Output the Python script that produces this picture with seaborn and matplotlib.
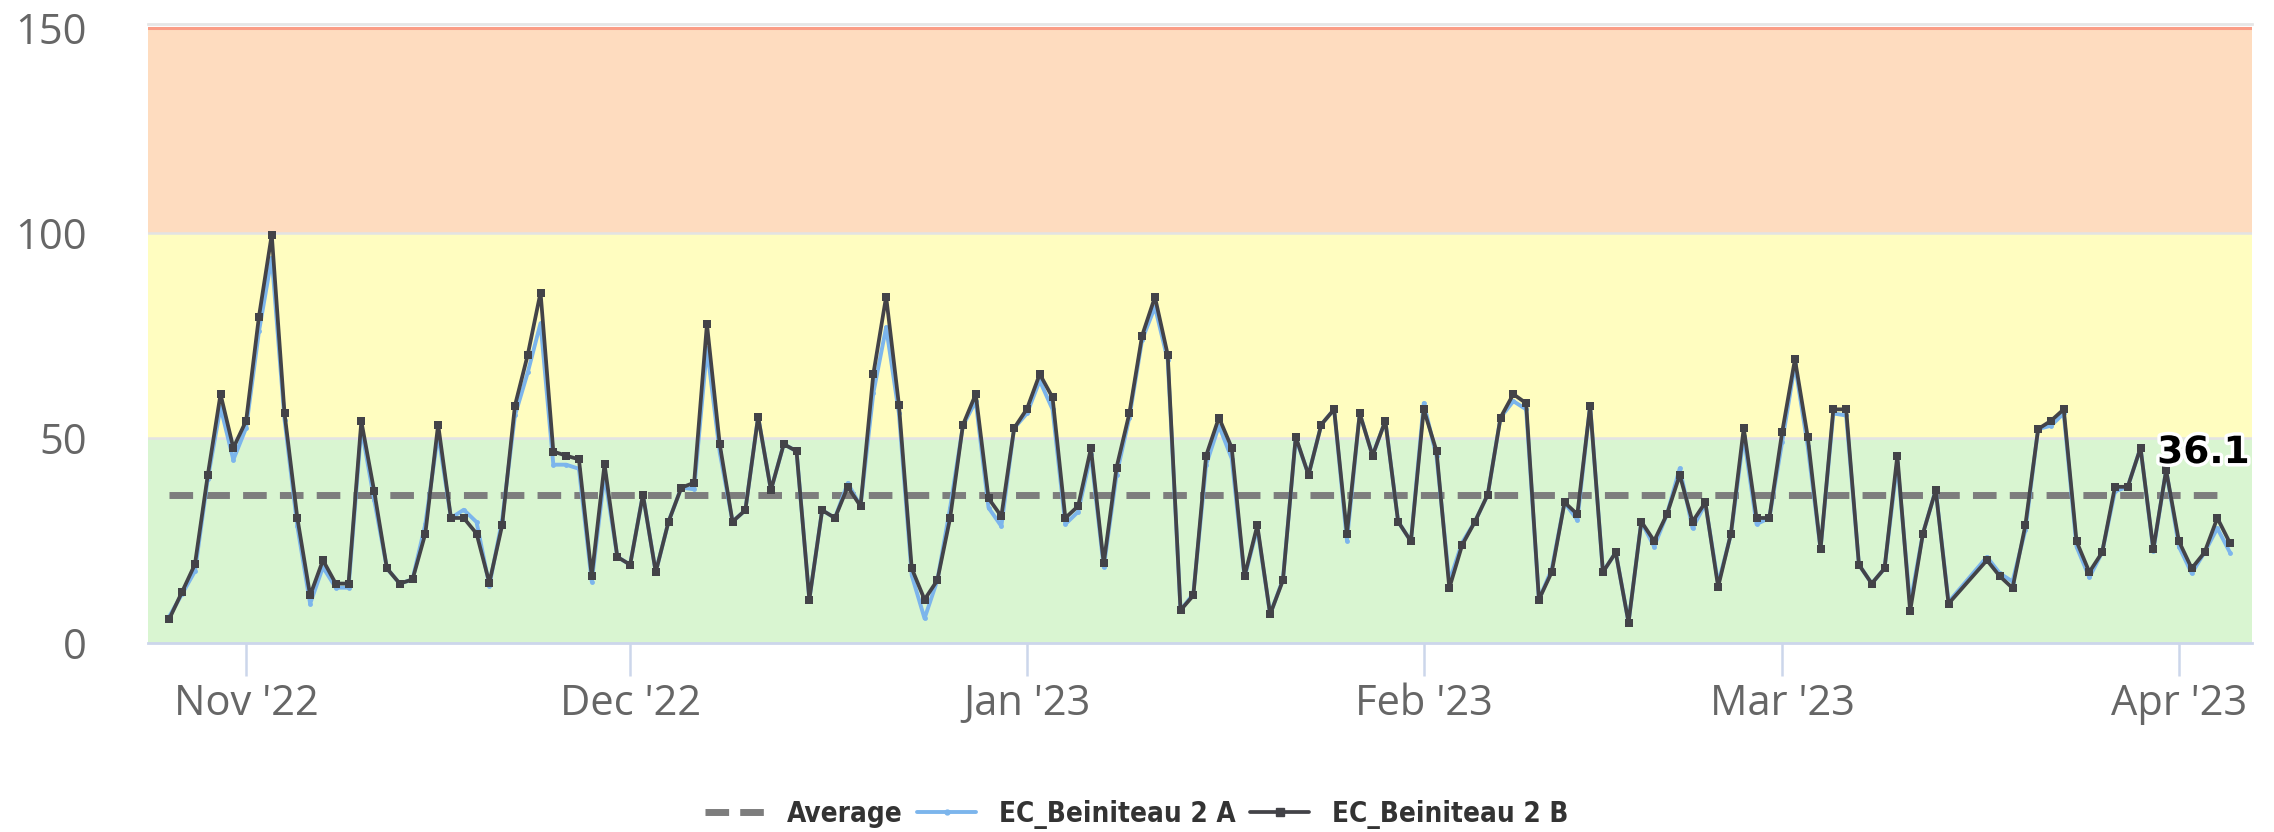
import matplotlib
matplotlib.use("Agg")
import pandas as pd
import matplotlib.pyplot as plt
import matplotlib.dates as mdates
import matplotlib.patheffects as pe
from matplotlib.lines import Line2D
from matplotlib import font_manager
import seaborn as sns

sns.set_theme(style="white")
plt.rcParams["font.family"] = ["Open Sans", "DejaVu Sans"]

# daily readings, two days missing in March
first_day = "2022-10-26"
last_day = "2023-04-05"
missing_days = ["2023-03-15", "2023-03-16"]

sensor_b = [
    5.9, 12.5, 19.2, 40.9, 60.7, 47.6, 54.2, 79.6, 99.6, 56.0,
    30.5, 11.6, 20.2, 14.5, 14.5, 54.1, 37.1, 18.2, 14.5, 15.5,
    26.7, 53.3, 30.5, 30.5, 26.7, 14.7, 28.7,
    57.9, 70.3, 85.5, 46.7, 45.7, 44.8, 16.3, 43.6, 21.0, 19.1,
    36.2, 17.3, 29.6, 37.9, 39.1, 77.8, 48.5, 29.6, 32.4, 55.2,
    37.3, 48.5, 46.8, 10.6, 32.4, 30.5, 38.1,
    33.4, 65.6, 84.5, 58.1, 18.2, 10.6, 15.3, 30.5, 53.2, 60.7,
    35.3, 30.9, 52.4, 57.1, 65.6, 59.9, 30.5, 33.4, 47.5, 19.4,
    42.8, 56.0, 75.0, 84.4, 70.3, 8.0, 11.6,
    45.7, 55.0, 47.6, 16.3, 28.7, 7.0, 15.3, 50.3, 41.0, 53.3,
    57.0, 26.7, 56.0, 45.7, 54.2, 29.6, 24.8, 57.0, 46.8, 13.4,
    23.9, 29.6, 36.2, 55.0, 60.7, 58.5, 10.6,
    17.3, 34.3, 31.4, 57.9, 17.3, 22.1, 5.0, 29.6, 24.9, 31.4,
    41.0, 29.6, 34.3, 13.7, 26.7, 52.4, 30.5, 30.5, 51.4, 69.2,
    50.3, 22.9, 57.0, 57.0, 19.1, 14.5, 18.2, 45.7,
    7.8, 26.7, 37.3, 9.6,
    20.2, 16.3, 13.4, 28.7, 52.2, 54.2, 57.0, 24.8, 17.3, 22.1,
    38.1, 38.1, 47.6, 22.9, 42.2, 24.8, 18.2, 22.1, 30.5, 24.3,
]

sensor_a = [
    6.5, 12.0, 17.5, 40.0, 57.5, 44.7, 52.5, 76.0, 94.0, 54.5,
    28.5, 9.6, 18.5, 13.5, 13.5, 52.5, 35.0, 18.2, 14.5, 15.5,
    29.0, 51.0, 30.5, 32.5, 29.5, 14.0, 30.0,
    55.5, 66.0, 78.0, 43.5, 43.5, 42.5, 15.0, 41.0, 21.0, 19.1,
    36.2, 17.3, 29.6, 37.9, 37.5, 72.0, 46.5, 29.6, 32.4, 55.2,
    37.3, 48.5, 46.8, 10.6, 32.4, 30.5, 39.0,
    33.4, 61.0, 77.0, 56.0, 16.5, 6.0, 15.3, 33.0, 53.0, 59.0,
    33.0, 28.5, 52.4, 56.0, 64.0, 57.0, 29.0, 32.0, 46.0, 18.5,
    41.0, 55.0, 74.0, 82.0, 69.0, 8.0, 12.0,
    43.5, 53.0, 45.0, 16.0, 28.0, 7.0, 15.5, 50.0, 41.0, 53.3,
    57.0, 25.0, 56.0, 45.7, 54.2, 29.6, 24.8, 58.5, 45.5, 15.0,
    24.5, 29.6, 36.2, 55.0, 59.0, 57.0, 10.6,
    18.0, 34.3, 30.0, 57.9, 17.3, 22.1, 5.0, 29.6, 23.5, 31.4,
    42.6, 28.0, 34.0, 14.5, 26.5, 50.5, 29.0, 30.5, 49.0, 68.0,
    48.0, 22.9, 56.0, 55.5, 19.1, 14.5, 18.2, 44.0,
    9.5, 26.7, 37.3, 10.0,
    21.0, 17.0, 15.0, 27.5, 52.2, 53.0, 56.0, 23.5, 16.0, 22.1,
    37.0, 38.1, 47.6, 22.5, 42.2, 23.5, 17.0, 22.1, 28.0, 22.0,
]

average_value = 36.1

band_edges = [0, 50, 100, 150]
band_colors = ["#d9f5d1", "#fffdc0", "#fedcbf"]
limit_value = 150
y_ticks = [0, 50, 100, 150]
month_ticks = ["2022-11-01", "2022-12-01", "2023-01-01",
               "2023-02-01", "2023-03-01", "2023-04-01"]
legend_labels = ["Average", "EC_Beiniteau 2 A", "EC_Beiniteau 2 B"]

days = pd.date_range(first_day, last_day, freq="D").drop(pd.to_datetime(missing_days))
df = pd.DataFrame({"date": days, "A": sensor_a, "B": sensor_b})

fig = plt.figure(figsize=(22.74, 8.32), dpi=100)
ax = fig.add_axes([148 / 2274, 1 - 643 / 832, (2252 - 148) / 2274, (643 - 24) / 832])

for lo, hi, col in zip(band_edges[:-1], band_edges[1:], band_colors):
    ax.axhspan(lo, hi, color=col, lw=0, zorder=0)
for y in band_edges[1:-1]:
    ax.axhline(y, color="#e3e3e3", lw=1.8, zorder=0.5)
ax.axhline(limit_value, color="#fa9d86", lw=2.2, zorder=0.6)

avg_df = pd.DataFrame({"date": [days[0], days[-1]], "avg": [average_value] * 2})
sns.lineplot(data=avg_df, x="date", y="avg", ax=ax, color="#7d7d7d", lw=5,
             zorder=2)
ax.lines[-1].set_dashes([3.4, 1.9])
ax.lines[-1].set_dash_capstyle("butt")

sns.lineplot(data=df, x="date", y="A", ax=ax, color="#7cb5ec", lw=2.8,
             marker="o", markersize=3.5, markeredgewidth=0, zorder=3)
sns.lineplot(data=df, x="date", y="B", ax=ax, color="#434348", lw=2.7,
             marker="s", markersize=6, markeredgewidth=0, zorder=4)

ax.text(0.999, 43.9, f"{average_value:.1f}", transform=ax.get_yaxis_transform(),
        ha="right", va="baseline", fontsize=27, fontweight="bold",
        family=["DejaVu Sans"], color="black", zorder=6,
        path_effects=[pe.withStroke(linewidth=5, foreground="white")])

ax.set_ylim(0, 151)
ax.set_xlim(pd.Timestamp("2022-10-24 08:00"), pd.Timestamp("2023-04-06 17:00"))
ax.set_yticks(y_ticks)
ax.set_xticks(pd.to_datetime(month_ticks))
ax.xaxis.set_major_formatter(mdates.DateFormatter("%b '%y"))
ax.set_xlabel("")
ax.set_ylabel("")
ax.tick_params(axis="y", length=0, pad=44, labelsize=30, labelcolor="#666666")
ax.tick_params(axis="x", length=24, width=1.8, color="#ccd6eb", pad=5,
               labelsize=30, labelcolor="#666666", direction="out", bottom=True)

for side in ["left", "right"]:
    ax.spines[side].set_visible(False)
ax.spines["bottom"].set_color("#ccd6eb")
ax.spines["bottom"].set_linewidth(2)
ax.spines["top"].set_color("#e6e6e6")
ax.spines["top"].set_linewidth(2)

# condensed face for the legend if one is installed
names = {f.name for f in font_manager.fontManager.ttflist}
if "Liberation Sans Narrow" in names:
    legend_prop = {"family": ["Liberation Sans Narrow"], "weight": "bold", "size": 26}
else:
    legend_prop = {"family": ["DejaVu Sans"], "stretch": "condensed",
                   "weight": "bold", "size": 20}

handles = [
    Line2D([], [], color="#7d7d7d", lw=5, dashes=[3.4, 1.6], dash_capstyle="butt"),
    Line2D([], [], color="#7cb5ec", lw=2.8, marker="o", markersize=3.5),
    Line2D([], [], color="#434348", lw=2.7, marker="s", markersize=6),
]
fig.legend(handles, legend_labels,
           loc="center", bbox_to_anchor=(0.5, 0.021), ncol=3, frameon=False,
           handlelength=2.1, handletextpad=0.85, columnspacing=0.52,
           prop=legend_prop, labelcolor="#333333")

fig.savefig("out.png", dpi=100, facecolor="white")
